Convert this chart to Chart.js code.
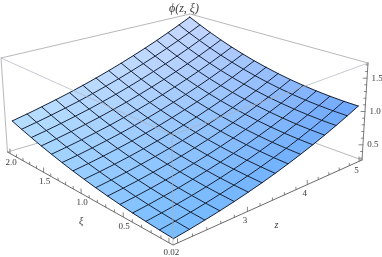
<!DOCTYPE html>
<html><head><meta charset="utf-8">
<style>html,body{margin:0;padding:0;background:#fff}canvas{display:block}</style>
<script src="https://cdn.jsdelivr.net/npm/chart.js@4"></script>
</head><body><canvas id="c" width="382" height="257"></canvas>
<script>
// phi: one row per z mesh line, ascending xi
const phiZ00=[.300,.311,.325,.342,.363,.387,.414,.445,.479,.517,.558,.602,.650,.701,.755];
const phiZ01=[.329,.339,.353,.370,.391,.416,.444,.476,.511,.550,.593,.639,.689,.742,.799];
const phiZ02=[.363,.372,.386,.403,.424,.449,.478,.510,.547,.588,.632,.680,.732,.788,.848];
const phiZ03=[.400,.409,.422,.439,.461,.486,.516,.549,.587,.629,.675,.725,.779,.837,.899];
const phiZ04=[.441,.450,.462,.480,.501,.527,.557,.591,.630,.673,.720,.772,.828,.888,.953];
const phiZ05=[.487,.495,.507,.525,.546,.572,.603,.638,.678,.722,.771,.825,.883,.945,1.012];
const phiZ06=[.536,.544,.556,.573,.594,.621,.652,.688,.729,.775,.825,.880,.940,1.005,1.074];
const phiZ07=[.590,.597,.609,.626,.648,.675,.706,.743,.785,.832,.883,.940,1.002,1.068,1.140];
const phiZ08=[.648,.655,.666,.683,.705,.732,.764,.802,.845,.893,.946,1.004,1.068,1.136,1.210];
const phiZ09=[.710,.716,.727,.744,.766,.794,.826,.865,.908,.957,1.012,1.071,1.137,1.207,1.283];
const phiZ10=[.776,.781,.792,.809,.831,.859,.892,.931,.975,1.025,1.081,1.142,1.209,1.281,1.359];
const phiZ11=[.846,.851,.861,.878,.900,.928,.962,1.001,1.046,1.097,1.154,1.217,1.285,1.359,1.439];
const phiZ12=[.920,.924,.935,.951,.973,1.001,1.035,1.075,1.121,1.173,1.231,1.295,1.365,1.441,1.523];
const phiZ13=[.998,1.002,1.012,1.028,1.050,1.078,1.113,1.153,1.200,1.253,1.312,1.377,1.449,1.526,1.610];
const phiZ14=[1.080,1.083,1.093,1.109,1.131,1.159,1.194,1.235,1.282,1.336,1.396,1.463,1.536,1.615,1.700];
const phiRows=[phiZ00,phiZ01,phiZ02,phiZ03,phiZ04,phiZ05,phiZ06,phiZ07,phiZ08,phiZ09,phiZ10,phiZ11,phiZ12,phiZ13,phiZ14];
const zMajorTicks=[2,3,4,5];
const zMinorTicks=[2.2,2.4,2.6,2.8,3.2,3.4,3.6,3.8,4.2,4.4,4.6,4.8];
const zTickLabels=["3","4","5"];
const xiMajorTicks=[0.02,0.5,1,1.5,2];
const xiMinorTicks=[0.1,0.2,0.3,0.4,0.6,0.7,0.8,0.9,1.1,1.2,1.3,1.4,1.6,1.7,1.8,1.9];
const xiTickLabels=["0.02","0.5","1.0","1.5","2.0"];
const phiMajorTicks=[0.5,1,1.5];
const phiMinorTicks=[0.3,0.4,0.6,0.7,0.8,0.9,1.1,1.2,1.3,1.4,1.6,1.7];
const phiTickLabels=["0.5","1.0","1.5"];

// view of the 3D box
const zRange=[1.94,5.06],xiRange=[-0.0196,2.0396],phiRange=[0.272,1.728];
const floorQuad={F:[173,245],R:[362,160],B:[191,98],L:[7.5,152]};
const roofQuad={F:[172,135],R:[368,63],B:[190,14],L:[1,58]};
function homography(q){
  const sx=q.F[0]-q.R[0]+q.B[0]-q.L[0],sy=q.F[1]-q.R[1]+q.B[1]-q.L[1];
  const d1x=q.R[0]-q.B[0],d1y=q.R[1]-q.B[1],d2x=q.L[0]-q.B[0],d2y=q.L[1]-q.B[1];
  const D=d1x*d2y-d2x*d1y,g=(sx*d2y-d2x*sy)/D,h=(d1x*sy-d1y*sx)/D;
  return (a,b)=>{const w=1+g*a+h*b;return [
    (q.F[0]+(q.R[0]-q.F[0]+g*q.R[0])*a+(q.L[0]-q.F[0]+h*q.L[0])*b)/w,
    (q.F[1]+(q.R[1]-q.F[1]+g*q.R[1])*a+(q.L[1]-q.F[1]+h*q.L[1])*b)/w];};
}
const floorH=homography(floorQuad),roofH=homography(roofQuad);
const frac=(v,r)=>(v-r[0])/(r[1]-r[0]);
function project(z,xi,phi){
  const a=frac(z,zRange),b=frac(xi,xiRange),w=frac(phi,phiRange);
  const p=floorH(a,b),q=roofH(a,b);
  return {x:p[0]+(q[0]-p[0])*w,y:p[1]+(q[1]-p[1])*w};
}
const CELLS=phiRows.length-1;
const zAt=i=>2+3*i/CELLS, xiAt=j=>0.02+1.98*j/CELLS;

const datasets=[];
function stroke(pts,color,width,order){
  datasets.push({data:pts,borderColor:color,borderWidth:width,pointRadius:0,fill:false,tension:0,order,clip:false,borderCapStyle:'round'});
}
const zLo=zRange[0],zHi=zRange[1],xLo=xiRange[0],xHi=xiRange[1],pLo=phiRange[0],pHi=phiRange[1];
const boxBack='#b0b0b0',boxAxis='#6a6a6a',boxFront='rgba(170,175,185,0.75)';
// back edges
stroke([project(zLo,xHi,pHi),project(zHi,xHi,pHi)],boxBack,0.9,100);
stroke([project(zHi,xLo,pHi),project(zHi,xHi,pHi)],boxBack,0.9,100);
stroke([project(zLo,xHi,pLo),project(zHi,xHi,pLo)],boxBack,0.9,100);
stroke([project(zHi,xLo,pLo),project(zHi,xHi,pLo)],boxBack,0.9,100);
stroke([project(zLo,xHi,pLo),project(zLo,xHi,pHi)],boxBack,0.9,100);
// surface cells
const cNear=[118,188,255],cLeft=[182,222,255],cRight=[110,168,252],cBack=[200,216,255];
function cellColor(s,t){
  const m=k=>Math.round((cNear[k]*(1-s)+cRight[k]*s)*(1-t)+(cLeft[k]*(1-s)+cBack[k]*s)*t);
  return `rgb(${m(0)},${m(1)},${m(2)})`;
}
for(let i=0;i<CELLS;i++)for(let j=0;j<CELLS;j++){
  const P=(u,v)=>project(zAt(u),xiAt(v),phiRows[u][v]);
  const col=cellColor((i+.5)/CELLS,(j+.5)/CELLS);
  datasets.push({data:[P(i,j),P(i+1,j),P(i+1,j+1),P(i,j+1),P(i,j)],borderColor:col,borderWidth:0.4,backgroundColor:col,fill:'shape',pointRadius:0,tension:0,order:50,clip:false});
}
// mesh
const meshColor='rgba(16,24,42,0.95)';
for(let i=0;i<=CELLS;i++){
  stroke(phiRows[i].map((p,j)=>project(zAt(i),xiAt(j),p)),meshColor,1,20);
  stroke(phiRows.map((r,u)=>project(zAt(u),xiAt(i),r[i])),meshColor,1,20);
}
// front edges over the surface
stroke([project(zLo,xHi,pHi),project(zLo,xLo,pHi)],boxFront,0.9,10);
stroke([project(zHi,xLo,pHi),project(zLo,xLo,pHi)],boxFront,0.9,10);
stroke([project(zLo,xLo,pLo),project(zLo,xLo,pHi)],boxFront,0.9,10);
// axes and ticks
stroke([project(zLo,xHi,pLo),project(zLo,xLo,pLo),project(zHi,xLo,pLo)],boxAxis,1,5);
stroke([project(zHi,xLo,pLo),project(zHi,xLo,pHi)],boxAxis,0.9,5);
function vTick(p,len){stroke([p,{x:p.x,y:p.y-len}],boxAxis,0.8,5);}
zMajorTicks.forEach(z=>vTick(project(z,xLo,pLo),4.5));
zMinorTicks.forEach(z=>vTick(project(z,xLo,pLo),2.5));
xiMajorTicks.forEach(x=>vTick(project(zLo,x,pLo),4.5));
xiMinorTicks.forEach(x=>vTick(project(zLo,x,pLo),2.5));
function hTick(p,len){stroke([p,{x:p.x-len,y:p.y}],boxAxis,0.8,5);}
phiMajorTicks.forEach(v=>hTick(project(zHi,xLo,v),4));
phiMinorTicks.forEach(v=>hTick(project(zHi,xLo,v),2));

const textPlugin={id:'boxText',afterDraw(ch){
  const {ctx,scales:{x,y}}=ch;
  const put=(txt,p,dx,dy,font)=>{ctx.font=font;ctx.fillStyle='#3a3a3a';ctx.textAlign='center';ctx.textBaseline='middle';
    ctx.fillText(txt,x.getPixelForValue(p.x)+dx,y.getPixelForValue(p.y)+dy);};
  const num='9px "Liberation Serif"',it='italic 10px "Liberation Serif"';
  ctx.save();
  zTickLabels.forEach((t,i)=>put(t,project(zMajorTicks[i+1],xLo,pLo),-2.5,9,num));
  xiTickLabels.forEach((t,i)=>put(t,project(zLo,xiMajorTicks[i],pLo),i?1:2.5,9.5,num));
  phiTickLabels.forEach((t,i)=>put(t,project(zHi,xLo,phiMajorTicks[i]),10,0,num));
  put('ξ',project(zLo,1,pLo),0,28,it);
  put('z',project(3.5,xLo,pLo),-2,28,it);
  put('ϕ(z, ξ)',project(zHi,xHi,pHi),-6,-5,'italic 12px "Liberation Serif"');
  ctx.restore();
}};
new Chart(document.getElementById('c'),{
  type:'line',
  data:{datasets},
  plugins:[textPlugin],
  options:{responsive:false,animation:false,devicePixelRatio:1,events:[],
    layout:{padding:0},
    plugins:{legend:{display:false},tooltip:{enabled:false},title:{display:false}},
    scales:{
      x:{type:'linear',min:0,max:382,display:false},
      y:{type:'linear',min:0,max:257,reverse:true,display:false}
    }}
});
</script></body></html>
